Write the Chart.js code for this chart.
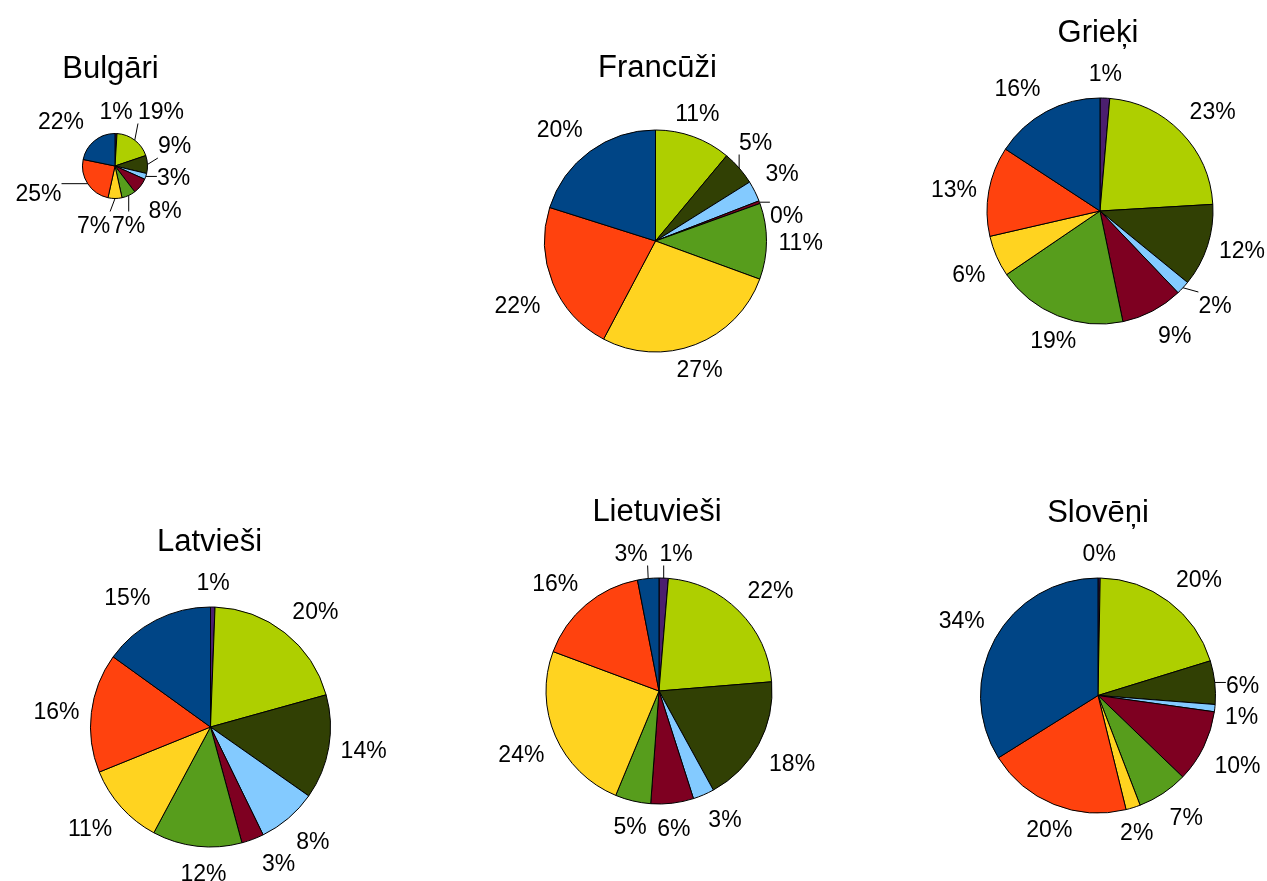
<!DOCTYPE html>
<html>
<head>
<meta charset="utf-8">
<script src="https://cdn.jsdelivr.net/npm/chart.js@4.4.1/dist/chart.umd.min.js"></script>
<style>
  html, body { margin: 0; padding: 0; background: #fff; }
  #wrap { position: relative; width: 1267px; height: 881px; overflow: hidden; background: #fff; }
  #wrap canvas { position: absolute; }
</style>
</head>
<body>
<div id="wrap"></div>
<script>
// Answer categories, in drawing order (clockwise from 12 o'clock)
const categories = ['1', '2', '3', '4', '5', '6', '7', '8', '9'];
const sliceColors = ['#4b1f6f', '#aecf00', '#314004', '#83caff', '#7e0021', '#579d1c', '#ffd320', '#ff420e', '#004586'];

// Groups and their shares (%) per category
const groups     = ['Bulgāri', 'Francūži', 'Grieķi', 'Latvieši', 'Lietuvieši', 'Slovēņi'];
const bulgari    = [1, 19, 9, 3, 8, 7, 7, 25, 22];
const francuzi   = [0, 11, 5, 3, 0.4, 11, 27, 22, 20];
const grieki     = [1.4, 23, 12, 2, 9, 19, 6, 13, 16];
const latviesi   = [0.6, 20, 14, 8, 3, 12, 11, 16, 15];
const lietuviesi = [1.3, 22, 18, 3, 6, 5, 24, 16, 3];
const sloveni    = [0.3, 20, 6, 1, 10, 7, 2, 20, 34];
const seriesByGroup = [bulgari, francuzi, grieki, latviesi, lietuviesi, sloveni];

// Placement of each pie on the page: centre, radius, title offset
const placement = [
  { cx: 115,   cy: 166,   r: 32.5,  tdx: -4.5, tdy: -88 },
  { cx: 655.5, cy: 241,   r: 111,   tdx: 2,    tdy: -164 },
  { cx: 1100,  cy: 211,   r: 113,   tdx: -2,   tdy: -169 },
  { cx: 210.5, cy: 727,   r: 120,   tdx: -1,   tdy: -176 },
  { cx: 659,   cy: 691,   r: 113,   tdx: -2,   tdy: -170 },
  { cx: 1098,  cy: 695.5, r: 117.5, tdx: 0,    tdy: -173.5 }
];

// Labels moved away from their default spot: slice index -> [dx, dy from centre, leader line]
const labelMoves = [
  { 0: [1, -55.5, false], 1: [46, -55.5, true], 2: [59.5, -21, true], 3: [58.5, 10.5, true],
    4: [50, 44, false], 5: [13.5, 58.5, true], 6: [-21.5, 58.5, true], 7: [-76.5, 26.5, true],
    8: [-54, -45.5, false] },
  { 2: [100, -99.5, true], 4: [131, -26.5, true], 7: [-138, 63.5, false] },
  { 3: [115, 94, true] },
  { 4: [68, 135.5, false], 5: [-7, 146, false] },
  { 0: [17, -138.5, true], 8: [-28, -138.5, true] },
  { 2: [144.5, -11, true], 3: [143.5, 20, false] }
];

const LABEL_SIZE = 23;
const TITLE_SIZE = 31;
const FONT_FAMILY = '"Liberation Sans", Arial, Helvetica, sans-serif';

// Percent labels outside the pie, aligned by the octant of the slice's mid angle
const outsideLabels = {
  id: 'outsideLabels',
  afterDatasetsDraw(chart, args, opts) {
    const ctx = chart.ctx;
    const meta = chart.getDatasetMeta(0);
    const values = chart.data.datasets[0].data;
    ctx.save();
    ctx.font = LABEL_SIZE + 'px ' + FONT_FAMILY;
    ctx.fillStyle = '#000';
    ctx.strokeStyle = '#000';
    ctx.lineWidth = 1;
    ctx.textAlign = 'center';
    ctx.textBaseline = 'alphabetic';
    const h = opts.boxHeight;
    meta.data.forEach((arc, i) => {
      const v = values[i];
      if (!v) return;
      const text = Math.round(v) + '%';
      const p = arc.getProps(['x', 'y', 'startAngle', 'endAngle', 'outerRadius'], true);
      const mid = (p.startAngle + p.endAngle) / 2;
      const cos = Math.cos(mid), sin = Math.sin(mid);
      const w = ctx.measureText(text).width;
      let lx, ly;
      const mv = opts.moves[i];
      if (mv) {
        lx = p.x + mv[0];
        ly = p.y + mv[1];
      } else {
        const ar = p.outerRadius + opts.gap;
        const ax = p.x + ar * cos, ay = p.y + ar * sin;
        let deg = (-mid * 180 / Math.PI) % 360;
        if (deg < 0) deg += 360;
        let sx, sy;
        if (deg <= 22.5 || deg >= 337.5) { sx = 1; sy = 0; }
        else if (deg < 67.5) { sx = 1; sy = -1; }
        else if (deg < 112.5) { sx = 0; sy = -1; }
        else if (deg <= 157.5) { sx = -1; sy = -1; }
        else if (deg <= 202.5) { sx = -1; sy = 0; }
        else if (deg < 247.5) { sx = -1; sy = 1; }
        else if (deg < 292.5) { sx = 0; sy = 1; }
        else { sx = 1; sy = 1; }
        lx = ax + sx * w / 2;
        ly = ay + sy * h / 2;
      }
      if (mv && mv[2]) {
        const px = p.x + p.outerRadius * cos, py = p.y + p.outerRadius * sin;
        const bx = Math.max(lx - w / 2, Math.min(px, lx + w / 2));
        const by = Math.max(ly - h / 2, Math.min(py, ly + h / 2));
        ctx.beginPath();
        ctx.moveTo(px, py);
        ctx.lineTo(bx, by);
        ctx.stroke();
      }
      ctx.fillText(text, lx, ly + 0.358 * LABEL_SIZE);
    });
    // group title
    ctx.font = TITLE_SIZE + 'px ' + FONT_FAMILY;
    ctx.textAlign = 'center';
    const c = meta.data[0].getProps(['x', 'y'], true);
    ctx.fillText(opts.title, c.x + opts.titleDx, c.y + opts.titleDy);
    ctx.restore();
  }
};

const wrap = document.getElementById('wrap');
const HALF = 225;

groups.forEach((name, g) => {
  const pl = placement[g];
  const left = Math.floor(pl.cx - HALF);
  const top = Math.floor(pl.cy - HALF);
  const W = Math.round(2 * (pl.cx - left));
  const H = Math.round(2 * (pl.cy - top));
  const cv = document.createElement('canvas');
  cv.width = W; cv.height = H;
  cv.style.left = left + 'px';
  cv.style.top = top + 'px';
  cv.style.width = W + 'px';
  cv.style.height = H + 'px';
  wrap.appendChild(cv);

  new Chart(cv, {
    type: 'pie',
    data: {
      labels: categories,
      datasets: [{
        data: seriesByGroup[g],
        backgroundColor: sliceColors,
        borderColor: '#000',
        borderWidth: 1
      }]
    },
    options: {
      responsive: false,
      maintainAspectRatio: false,
      animation: false,
      events: [],
      radius: pl.r,
      rotation: 0,
      layout: { padding: 0 },
      plugins: {
        legend: { display: false },
        tooltip: { enabled: false },
        title: { display: false },
        outsideLabels: {
          gap: 12,
          boxHeight: 26,
          moves: labelMoves[g],
          title: name,
          titleDx: pl.tdx,
          titleDy: pl.tdy
        }
      }
    },
    plugins: [outsideLabels]
  });
});
</script>
</body>
</html>
